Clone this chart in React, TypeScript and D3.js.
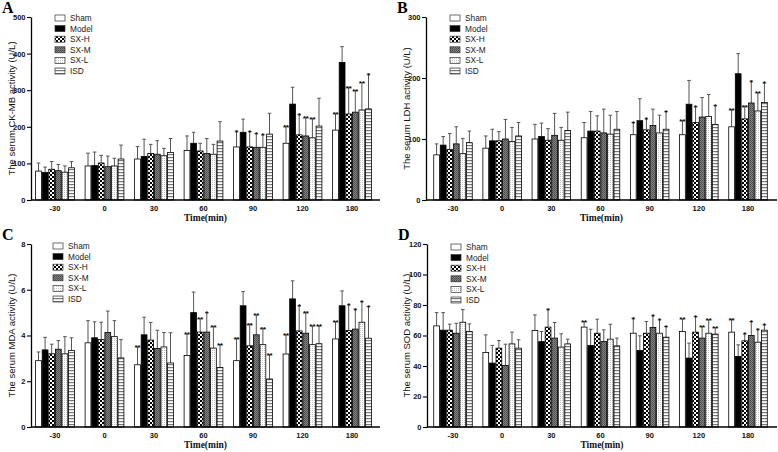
import { useEffect, useRef } from "react";
import * as d3 from "d3";

const times = ["-30", "0", "30", "60", "90", "120", "180"];
const groups = ["Sham", "Model", "SX-H", "SX-M", "SX-L", "ISD"];

// rows = groups, columns = times
const ckmbMean = [
  [79, 93, 112, 135, 145, 155, 191],
  [75, 94, 119, 155, 185, 262, 376],
  [84, 101, 127, 134, 145, 178, 235],
  [80, 91, 125, 127, 144, 175, 240],
  [76, 93, 121, 125, 144, 170, 246],
  [88, 112, 130, 161, 180, 202, 249],
];
const ckmbSd = [
  [22, 35, 34, 40, 43, 47, 46],
  [15, 37, 47, 30, 36, 46, 43],
  [21, 21, 25, 21, 42, 56, 73],
  [17, 29, 37, 41, 38, 51, 59],
  [17, 21, 20, 27, 34, 53, 75],
  [17, 38, 38, 53, 57, 76, 95],
];
const ckmbStars = [
  ["", "", "", "", "*", "**", "**"],
  ["", "", "", "", "", "", ""],
  ["", "", "", "", "*", "*", "**"],
  ["", "", "", "", "*", "**", "**"],
  ["", "", "", "", "*", "**", "**"],
  ["", "", "", "", "", "", "*"],
];

const ldhMean = [
  [74, 85, 100, 102, 107, 107, 120],
  [90, 97, 104, 113, 130, 157, 207],
  [83, 97, 98, 113, 115, 127, 133],
  [92, 100, 106, 110, 122, 136, 159],
  [76, 96, 98, 108, 110, 137, 146],
  [94, 105, 114, 116, 116, 124, 160],
];
const ldhSd = [
  [18, 20, 24, 25, 20, 23, 28],
  [14, 19, 22, 32, 36, 39, 33],
  [26, 15, 19, 25, 18, 26, 21],
  [28, 32, 36, 39, 27, 32, 36],
  [25, 23, 21, 31, 29, 36, 30],
  [19, 22, 30, 29, 29, 31, 32],
];
const ldhStars = [
  ["", "", "", "", "*", "**", "**"],
  ["", "", "", "", "", "", ""],
  ["", "", "", "", "*", "*", "**"],
  ["", "", "", "", "", "", "*"],
  ["", "", "", "", "", "", "**"],
  ["", "", "", "", "*", "*", "*"],
];

const mdaMean = [
  [2.9, 3.68, 2.72, 3.13, 2.9, 3.19, 3.85],
  [3.37, 3.9, 4.03, 5.0, 5.3, 5.6, 5.3],
  [3.2, 3.82, 3.8, 4.15, 3.55, 4.2, 4.22],
  [3.4, 4.13, 3.43, 4.15, 4.03, 4.1, 4.28],
  [3.2, 3.95, 3.5, 3.45, 3.6, 3.6, 4.58],
  [3.35, 3.02, 2.8, 2.6, 2.1, 3.64, 3.88],
];
const mdaSd = [
  [0.38, 0.97, 0.78, 0.94, 0.98, 0.84, 0.76],
  [0.55, 0.7, 0.77, 0.9, 0.62, 0.79, 0.65],
  [0.42, 0.76, 0.77, 0.6, 0.95, 1.1, 1.12],
  [0.38, 0.94, 0.8, 0.85, 0.87, 0.92, 0.87],
  [0.75, 0.7, 0.63, 0.95, 0.72, 0.82, 0.9],
  [0.55, 0.8, 1.32, 1.0, 1.06, 0.78, 1.39],
];
const mdaStars = [
  ["", "", "**", "**", "**", "**", "**"],
  ["", "", "", "", "", "", ""],
  ["", "", "", "**", "**", "*", "*"],
  ["", "", "", "*", "**", "**", "*"],
  ["", "", "", "**", "**", "**", "*"],
  ["", "", "", "**", "**", "**", "*"],
];

const sodMean = [
  [66.3, 48.9, 63.3, 65.5, 61.5, 62.6, 62.2],
  [63.5, 41.9, 56, 53.5, 50.2, 45.2, 46.3],
  [63.5, 51.7, 65.5, 61.5, 61.5, 62.2, 56.5],
  [61.5, 40.4, 58.3, 56, 65.2, 58.3, 60],
  [68.7, 54.5, 52.4, 57.6, 61.5, 61.5, 55.6],
  [62.6, 51.7, 54.5, 53.2, 58.9, 60.9, 63.5],
];
const sodSd = [
  [8.7, 11.5, 10.2, 3.7, 9.8, 8.3, 8.5],
  [11.5, 11.6, 6.6, 10.6, 9.6, 9.8, 7.6],
  [3.9, 5, 11.7, 9.2, 7.7, 10.2, 4.6],
  [6.5, 13.9, 10.2, 7.7, 7.7, 7.6, 9.2],
  [8.3, 7.7, 8.7, 9.8, 8.8, 8.8, 8.5],
  [5, 5.5, 3.1, 5.1, 7, 4.3, 3.5],
];
const sodStars = [
  ["", "", "", "**", "*", "**", "**"],
  ["", "", "", "", "", "", ""],
  ["", "", "*", "", "", "*", "*"],
  ["", "", "", "", "*", "**", "*"],
  ["", "", "", "", "*", "**", "*"],
  ["", "", "", "", "*", "**", "*"],
];

const fills = ["#fff", "#000", "url(#pat-check)", "url(#pat-dark)", "url(#pat-dots)", "url(#pat-stripes)"];

const panels = [
  { letter: "A", label: "The serum CK-MB activity (U/L)", mean: ckmbMean, sd: ckmbSd, stars: ckmbStars, max: 500, step: 100,
    axisX: 31, x0: 30.25, x1: 376.75, xEnd: 380, top: 17, bottom: 200, lx: 12, legX: 55, legY: 18 },
  { letter: "B", label: "The serum LDH activity (U/L)", mean: ldhMean, sd: ldhSd, stars: ldhStars, max: 300, step: 100,
    axisX: 426, x0: 428.4, x1: 772.6, xEnd: 777, top: 17, bottom: 200, lx: 407, legX: 450, legY: 18 },
  { letter: "C", label: "The serum MDA activity (U/L)", mean: mdaMean, sd: mdaSd, stars: mdaStars, max: 8, step: 2,
    axisX: 31, x0: 30.25, x1: 376.75, xEnd: 380, top: 244, bottom: 427, lx: 12, legX: 53, legY: 246 },
  { letter: "D", label: "The serum SOD activity (U/L)", mean: sodMean, sd: sodSd, stars: sodStars, max: 120, step: 20,
    axisX: 427, x0: 428.4, x1: 772.6, xEnd: 777, top: 244, bottom: 427, lx: 407, legX: 451, legY: 247 },
];

const SANS = "'Liberation Sans', Arial, sans-serif";
const SERIF = "'Liberation Serif', 'Times New Roman', serif";

export default function App() {
  const svgRef = useRef<SVGSVGElement>(null);

  useEffect(() => {
    const svg = d3.select(svgRef.current);
    svg.selectAll("*").remove();

    // fill patterns for the treatment groups
    const defs = svg.append("defs");
    const check = defs.append("pattern").attr("id", "pat-check").attr("patternUnits", "userSpaceOnUse")
      .attr("width", 4).attr("height", 4);
    check.append("rect").attr("width", 4).attr("height", 4).attr("fill", "#fff");
    check.append("rect").attr("width", 2).attr("height", 2).attr("fill", "#000");
    check.append("rect").attr("x", 2).attr("y", 2).attr("width", 2).attr("height", 2).attr("fill", "#000");

    const dark = defs.append("pattern").attr("id", "pat-dark").attr("patternUnits", "userSpaceOnUse")
      .attr("width", 2).attr("height", 2);
    dark.append("rect").attr("width", 2).attr("height", 2).attr("fill", "#808080");
    dark.append("rect").attr("width", 1).attr("height", 1).attr("fill", "#4a4a4a");
    dark.append("rect").attr("x", 1).attr("y", 1).attr("width", 1).attr("height", 1).attr("fill", "#5a5a5a");

    const dots = defs.append("pattern").attr("id", "pat-dots").attr("patternUnits", "userSpaceOnUse")
      .attr("width", 2).attr("height", 2);
    dots.append("rect").attr("width", 2).attr("height", 2).attr("fill", "#fff");
    dots.append("rect").attr("width", 1).attr("height", 1).attr("fill", "#c4c4c4");

    const stripes = defs.append("pattern").attr("id", "pat-stripes").attr("patternUnits", "userSpaceOnUse")
      .attr("width", 4).attr("height", 3);
    stripes.append("rect").attr("width", 4).attr("height", 3).attr("fill", "#fff");
    stripes.append("rect").attr("y", 1).attr("width", 4).attr("height", 1.2).attr("fill", "#777");

    panels.forEach((p) => {
      const g = svg.append("g");
      const y = d3.scaleLinear().domain([0, p.max]).range([p.bottom, p.top]);
      const x = d3.scaleBand<string>().domain(times).range([p.x0, p.x1]).paddingInner(0.2).paddingOuter(0.1);
      const xs = d3.scaleBand<string>().domain(groups).range([0, x.bandwidth()]);
      const bw = xs.bandwidth();

      // y axis
      const ya = g.append("g")
        .attr("transform", `translate(${p.axisX},0)`)
        .call(d3.axisLeft(y).tickValues(d3.range(0, p.max + p.step / 2, p.step)).tickSize(4).tickSizeOuter(0).tickPadding(1.5));
      ya.select(".domain").attr("stroke", "#000").attr("stroke-width", 1.3);
      ya.selectAll(".tick line").attr("stroke", "#000").attr("stroke-width", 1.1);
      ya.selectAll(".tick text").attr("font-family", SANS).attr("font-weight", "bold").attr("font-size", 7.5).attr("fill", "#111");

      // bars
      groups.forEach((name, i) => {
        times.forEach((t, j) => {
          const m = p.mean[i][j];
          const up = m + p.sd[i][j];
          const cx = x(t)! + xs(name)! + bw / 2;
          g.append("line").attr("x1", cx).attr("x2", cx).attr("y1", y(m)).attr("y2", y(up))
            .attr("stroke", "#555").attr("stroke-width", 1);
          g.append("line").attr("x1", cx - 1.8).attr("x2", cx + 1.8).attr("y1", y(up)).attr("y2", y(up))
            .attr("stroke", "#555").attr("stroke-width", 1);
          g.append("rect")
            .attr("x", x(t)! + xs(name)! + 0.4)
            .attr("y", y(m))
            .attr("width", bw - 0.8)
            .attr("height", y(0) - y(m))
            .attr("fill", fills[i])
            .attr("stroke", "#000")
            .attr("stroke-width", 0.8);
          const s = p.stars[i][j];
          if (s) {
            g.append("text").attr("x", cx).attr("y", y(up) + 3.5).attr("text-anchor", "middle")
              .attr("font-family", SANS).attr("font-weight", "bold").attr("font-size", 8).attr("fill", "#111")
              .text(s);
          }
        });
      });

      // x axis
      g.append("line").attr("x1", p.axisX).attr("x2", p.xEnd).attr("y1", p.bottom).attr("y2", p.bottom)
        .attr("stroke", "#000").attr("stroke-width", 1.3);
      times.forEach((t) => {
        g.append("text").attr("x", x(t)! + x.bandwidth() / 2).attr("y", p.bottom + 11).attr("text-anchor", "middle")
          .attr("font-family", SANS).attr("font-weight", "bold").attr("font-size", 7.5).attr("fill", "#111").text(t);
      });
      g.append("text").attr("x", (p.axisX + p.xEnd) / 2).attr("y", p.bottom + 21).attr("text-anchor", "middle")
        .attr("font-family", SERIF).attr("font-weight", "bold").attr("font-size", 9.5).attr("fill", "#111").text("Time(min)");

      // y label
      g.append("text").attr("transform", `translate(${p.lx + 3},${(p.top + p.bottom) / 2}) rotate(-90)`)
        .attr("text-anchor", "middle").attr("font-family", SANS).attr("font-size", 9.5).attr("fill", "#111").text(p.label);

      // panel letter
      g.append("text").attr("x", p.axisX - 29).attr("y", p.top - 4)
        .attr("font-family", SERIF).attr("font-weight", "bold").attr("font-size", 16).attr("fill", "#000").text(p.letter);

      // legend
      groups.forEach((name, i) => {
        const ly = p.legY + i * 10.6;
        g.append("rect").attr("x", p.legX).attr("y", ly - 3).attr("width", 10).attr("height", 6)
          .attr("fill", fills[i]).attr("stroke", "#333").attr("stroke-width", 0.7);
        g.append("text").attr("x", p.legX + 15).attr("y", ly + 3)
          .attr("font-family", SANS).attr("font-size", 8.3).attr("fill", "#222").text(name);
      });
    });
  }, []);

  return (
    <svg ref={svgRef} width={778} height={452} style={{ position: "absolute", left: 0, top: 0, background: "#fff" }} />
  );
}
